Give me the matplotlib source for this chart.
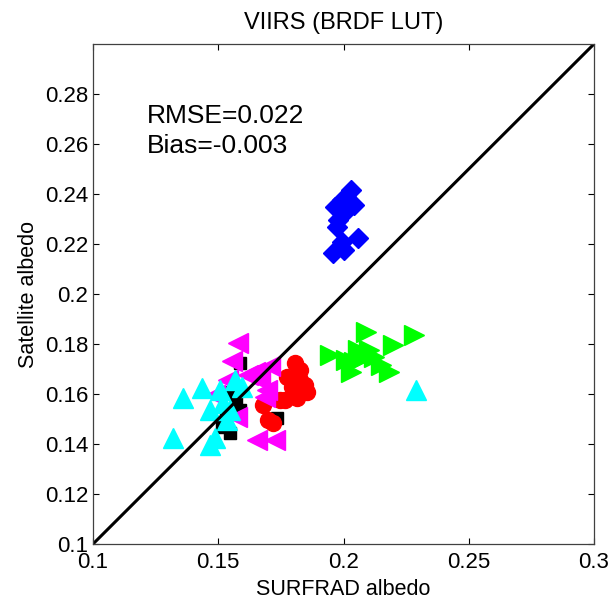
import numpy as np
import matplotlib
matplotlib.use("Agg")
from matplotlib import pyplot as plt
from matplotlib.ticker import FixedLocator, FuncFormatter

plt.rcParams['font.family'] = ['Liberation Sans', 'DejaVu Sans']

# site values (SURFRAD albedo, satellite albedo)
blue_x = [0.2028, 0.1996, 0.1968, 0.2040, 0.1980, 0.2000, 0.1996, 0.2056, 0.1960, 0.2000, 0.2010, 0.1975]
blue_y = [0.2416, 0.2376, 0.2348, 0.2356, 0.2296, 0.2324, 0.2208, 0.2224, 0.2164, 0.2176, 0.2390, 0.2270]

green_x = [0.2088, 0.2280, 0.2196, 0.1948, 0.2056, 0.2040, 0.2120, 0.2028, 0.2180, 0.2080, 0.2008, 0.2148, 0.2100]
green_y = [0.1848, 0.1836, 0.1796, 0.1756, 0.1776, 0.1728, 0.1748, 0.1688, 0.1688, 0.1748, 0.1736, 0.1716, 0.1776]

red_x = [0.1808, 0.1828, 0.1848, 0.1796, 0.1776, 0.1856, 0.1816, 0.1768, 0.1680, 0.1700, 0.1720, 0.1748, 0.1828]
red_y = [0.1724, 0.1696, 0.1636, 0.1628, 0.1668, 0.1608, 0.1584, 0.1576, 0.1556, 0.1496, 0.1484, 0.1576, 0.1656]

magenta_x = [0.1580, 0.1556, 0.1708, 0.1620, 0.1648, 0.1696, 0.1688, 0.1656, 0.1728, 0.1576, 0.1488, 0.1540, 0.1668]
magenta_y = [0.1804, 0.1732, 0.1712, 0.1676, 0.1688, 0.1616, 0.1588, 0.1416, 0.1416, 0.1508, 0.1596, 0.1656, 0.1656]

black_x = [0.1588, 0.1548, 0.1516, 0.1736, 0.1588, 0.1556, 0.1572, 0.1532]
black_y = [0.1724, 0.1444, 0.1468, 0.1504, 0.1536, 0.1608, 0.1576, 0.1496]

cyan_x = [0.1360, 0.1436, 0.1508, 0.1468, 0.1320, 0.1468, 0.1568, 0.1596, 0.1548, 0.1536, 0.1488, 0.1520, 0.2288]
cyan_y = [0.1584, 0.1624, 0.1616, 0.1536, 0.1424, 0.1396, 0.1656, 0.1628, 0.1536, 0.1496, 0.1424, 0.1564, 0.1616]

x_ticks = [0.1, 0.15, 0.2, 0.25, 0.3]
y_ticks = [0.1, 0.12, 0.14, 0.16, 0.18, 0.2, 0.22, 0.24, 0.26, 0.28]
rmse = 0.022
bias = -0.003

fig = plt.figure(figsize=(6.13, 6.04), dpi=100)
ax = fig.add_axes([93 / 613, 60 / 604, 501 / 613, 500 / 604])

ax.plot(black_x, black_y, 's', color='k', markersize=9, linestyle='none')
ax.plot(red_x, red_y, 'o', color='red', markersize=11.5, linestyle='none')
ax.plot(magenta_x, magenta_y, '<', color='magenta', markersize=14, linestyle='none')
ax.plot(cyan_x, cyan_y, '^', color='cyan', markersize=14, linestyle='none')
ax.plot(green_x, green_y, '>', color='#00ff00', markersize=14, linestyle='none')
ax.plot(blue_x, blue_y, 'D', color='blue', markersize=10, linestyle='none')

# 1:1 line
ax.plot([0.1, 0.3], [0.1, 0.3], color='k', linewidth=2.2)

ax.set_xlim(0.1, 0.3)
ax.set_ylim(0.1, 0.3)
ax.xaxis.set_major_locator(FixedLocator(x_ticks))
ax.yaxis.set_major_locator(FixedLocator(y_ticks))
fmt = FuncFormatter(lambda v, p: '%g' % round(v, 3))
ax.xaxis.set_major_formatter(fmt)
ax.yaxis.set_major_formatter(fmt)
ax.tick_params(direction='in', length=4, width=0.8, top=True, right=True, labelsize=16)
ax.tick_params(axis='x', pad=6)
ax.tick_params(axis='y', pad=3.6)
for s in ax.spines.values():
    s.set_linewidth(0.9)
    s.set_color('#404040')

ax.set_xlabel('SURFRAD albedo', fontsize=15.5)
ax.set_ylabel('Satellite albedo', fontsize=15.5)
ax.xaxis.set_label_coords(0.5, -0.07)
ax.yaxis.set_label_coords(-0.108, 0.5)
ax.set_title('VIIRS (BRDF LUT)', fontsize=17, pad=10.8)

ax.text(0.1216, 0.2684, 'RMSE=%.3f' % rmse, fontsize=19, va='baseline', ha='left')
ax.text(0.1216, 0.2564, 'Bias=%.3f' % bias, fontsize=19, va='baseline', ha='left')

fig.savefig('out.png', dpi=100)
